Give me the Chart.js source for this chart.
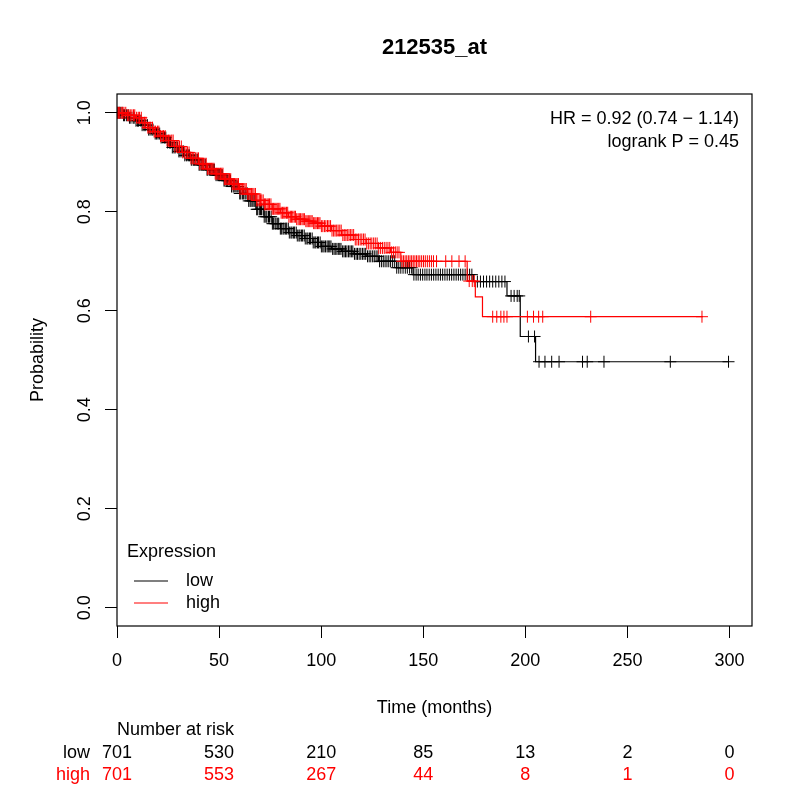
<!DOCTYPE html>
<html>
<head>
<meta charset="utf-8">
<script src="https://cdn.jsdelivr.net/npm/chart.js@4.4.0/dist/chart.umd.min.js"></script>
<style>
  html, body { margin: 0; padding: 0; background: #fff; }
  canvas { display: block; }
</style>
</head>
<body>
<canvas id="kmChart" width="800" height="800"></canvas>
<script>
// step points of the KM curves (time in months, survival)
const lowTimes = [0, 3, 6, 9, 12, 15, 18, 21, 24, 27, 30, 33, 36, 40, 44, 48, 52, 56, 60, 64, 68, 72, 76, 80, 84, 88, 92, 96, 100, 105, 110, 116, 122, 128, 137, 145, 174.5, 191, 197.5, 205, 299.5];
const lowSurv = [1, 0.995, 0.99, 0.984, 0.975, 0.966, 0.958, 0.95, 0.94, 0.93, 0.922, 0.914, 0.905, 0.895, 0.885, 0.874, 0.863, 0.851, 0.837, 0.822, 0.805, 0.79, 0.776, 0.766, 0.758, 0.752, 0.746, 0.738, 0.73, 0.725, 0.72, 0.715, 0.71, 0.7, 0.687, 0.673, 0.659, 0.63, 0.548, 0.497, 0.497];
const highTimes = [0, 5, 9, 12, 15, 18, 21, 24, 28, 32, 36, 40, 44, 48, 52, 56, 60, 64, 68, 72, 76, 80, 84, 88, 92, 96, 100, 105, 110, 116, 122, 128, 134, 139, 171.5, 175.5, 179, 287];
const highSurv = [1, 0.995, 0.99, 0.98, 0.97, 0.962, 0.953, 0.944, 0.932, 0.92, 0.908, 0.897, 0.887, 0.877, 0.866, 0.856, 0.846, 0.836, 0.823, 0.815, 0.806, 0.798, 0.79, 0.785, 0.781, 0.777, 0.771, 0.762, 0.753, 0.744, 0.736, 0.727, 0.718, 0.7, 0.66, 0.628, 0.588, 0.588];

// censoring times (the + marks)
const lowCensor = [0.4, 1.1, 1.6, 2.5, 3.2, 3.7, 4.6, 5.5, 6.1, 6.8, 7.9, 8.4, 9.3, 10.1, 10.6, 11.7, 12.3, 13.2, 13.8, 14.9, 15.5, 16.2, 17.1, 17.6, 18.7, 19.4, 20.1, 20.9, 21.6, 22.5, 23.3, 23.9, 24.8, 25.7, 26.2, 27.1, 27.9, 28.5, 29.6, 30.3, 30.9, 31.8, 32.6, 33.2, 34.1, 34.9, 35.5, 36.4, 37.3, 37.8, 38.7, 39.5,
  40.2, 40.7, 41.5, 42.1, 42.6, 43.4, 44.1, 44.5, 45.3, 45.9, 46.6, 47.2, 47.7, 48.5, 49.1, 49.8, 50.3, 51.1, 51.6, 52.4, 52.9, 53.7, 54.2, 54.9, 55.6, 56.1, 56.9, 57.4, 58.2, 58.8, 59.3, 60.1, 60.6, 61.4, 61.9, 62.7, 63.2, 63.9, 64.5, 65.2, 65.7, 66.5, 67.1, 67.6, 68.4, 68.9, 69.7, 70.3, 70.8, 71.6, 72.1, 72.9, 73.4, 74.2, 74.7, 75.5, 76.1, 76.6, 77.4, 77.9, 78.7, 79.2, 80, 80.5, 81.3, 81.8, 82.6, 83.1, 83.9, 84.4, 85.2, 85.7, 86.5, 87, 87.8, 88.3, 89.1, 89.6, 90.4, 90.9, 91.7, 92.2, 93, 93.5, 94.3, 94.8, 95.6, 96.1, 96.9, 97.4, 98.2, 98.7, 99.5,
  100.1, 100.8, 101.4, 102.1, 102.9, 103.5, 104.2, 104.8, 105.6, 106.3, 106.9, 107.7, 108.4, 109.1, 109.7, 110.5, 111.2, 111.9, 112.6, 113.4, 114.1, 114.8, 115.5, 116.3, 117.1, 117.8, 118.6, 119.4, 120.2, 121, 121.8, 122.7, 123.5, 124.3, 125.2, 126, 126.9, 127.8, 128.6, 129.5, 130.4, 131.3, 132.2, 133.1, 134, 135, 136, 137, 138, 139,
  140.1, 141.2, 142.2, 143.3, 144.3, 145.4, 146.5, 147.5, 148.6, 149.7, 150.8, 151.8, 152.9, 154, 155.1, 156.2, 157.3, 158.4, 159.5, 160.6, 161.7, 162.8, 163.9, 165, 166.1, 167.2, 168.3, 169.4, 170.5, 171.6, 172.7, 173.8,
  176.5, 178, 179.5, 181, 182.5, 184, 185.5, 187, 188.5, 190, 193, 194.5, 196, 197, 201.5, 204.5, 206.7, 209.6, 212.9, 216.5, 228, 230.3, 238.5, 271, 299.5];
const highCensor = [0.2, 0.7, 1.3, 2.1, 2.8, 3.4, 4.3, 5.1, 5.8, 6.5, 7.3, 8.1, 8.7, 9.6, 10.4, 11, 11.9, 12.7, 13.5, 14.2, 15.1, 15.8, 16.5, 17.4, 18.2, 18.9, 19.8, 20.5, 21.3, 22.1, 22.8, 23.6, 24.5, 25.2, 25.9, 26.8, 27.5, 28.3, 29.2, 29.9, 30.6, 31.5, 32.2, 33, 33.8, 34.5, 35.3, 36.2, 36.9, 37.6, 38.4, 39.2, 39.9,
  40.5, 41.2, 41.8, 42.4, 43.1, 43.7, 44.3, 45, 45.6, 46.2, 46.9, 47.5, 48.1, 48.8, 49.4, 50, 50.7, 51.3, 51.9, 52.6, 53.2, 53.8, 54.5, 55.1, 55.7, 56.4, 57, 57.6, 58.3, 58.9, 59.5, 60.2, 60.8, 61.4, 62.1, 62.7, 63.3, 64, 64.6, 65.2, 65.9, 66.5, 67.1, 67.8, 68.4, 69, 69.7, 70.3, 70.9, 71.6, 72.2, 72.8, 73.5, 74.1, 74.7, 75.4, 76, 76.6, 77.3, 77.9, 78.5, 79.2, 79.8, 80.4, 81.1, 81.7, 82.3, 83, 83.6, 84.2, 84.9, 85.5, 86.1, 86.8, 87.4, 88, 88.7, 89.3, 89.9, 90.6, 91.2, 91.8, 92.5, 93.1, 93.7, 94.4, 95, 95.6, 96.3, 96.9, 97.5, 98.2, 98.8, 99.4,
  100.1, 100.8, 101.6, 102.3, 103.1, 103.8, 104.6, 105.3, 106.1, 106.8, 107.6, 108.3, 109.1, 109.8, 110.6, 111.3, 112.1, 112.8, 113.6, 114.3, 115.1, 115.9, 116.7, 117.5, 118.3, 119.1, 119.9, 120.7, 121.5, 122.3, 123.1, 124, 124.8, 125.7, 126.5, 127.4, 128.2, 129.1, 130, 130.9, 131.8, 132.7, 133.6, 134.5, 135.4, 136.3, 137.2, 138.1, 139.5,
  140.3, 141.1, 141.9, 142.7, 143.5, 144.3, 145.1, 145.9, 146.7, 147.5, 148.3, 149.2, 150.1, 151, 152, 153, 154, 155, 156.5, 161, 164, 167.5, 170.5,
  172.5, 174, 175, 184, 186, 188, 189.5, 191, 201, 204, 206.5, 208.5, 232, 286.5];

// axes and risk table
const xTicks = [0, 50, 100, 150, 200, 250, 300];
const yTicks = [0, 0.2, 0.4, 0.6, 0.8, 1.0];
const riskTimes = [0, 50, 100, 150, 200, 250, 300];
const riskLow = [701, 530, 210, 85, 13, 2, 0];
const riskHigh = [701, 553, 267, 44, 8, 1, 0];

const FONT = '"Liberation Sans", Arial, Helvetica, sans-serif';
const RED = '#ff0000';

const stepPoints = (ts, ss) => ts.map((t, i) => ({x: t, y: ss[i]}));
// survival value of the step curve at time t
const survAt = (ts, ss, t) => {
  let s = ss[0];
  for (let i = 0; i < ts.length; i++) {
    if (ts[i] <= t) s = ss[i];
  }
  return s;
};
const censorPoints = (cs, ts, ss) => cs.map(t => ({x: t, y: survAt(ts, ss, t)}));

const extras = {
  id: 'extras',
  afterDraw(chart) {
    const ctx = chart.ctx;
    const a = chart.chartArea;
    const xs = chart.scales.x, ys = chart.scales.y;
    ctx.save();
    // box
    ctx.strokeStyle = '#000';
    ctx.lineWidth = 1.2;
    ctx.strokeRect(a.left, a.top, a.right - a.left, a.bottom - a.top);

    ctx.fillStyle = '#000';
    ctx.textBaseline = 'middle';
    // title
    ctx.font = 'bold 22px ' + FONT;
    ctx.textAlign = 'center';
    ctx.fillText('212535_at', (a.left + a.right) / 2, 48);

    ctx.font = '18px ' + FONT;
    // x tick labels
    xTicks.forEach(v => {
      ctx.fillText(String(v), xs.getPixelForValue(v), 661);
    });
    // y tick labels, rotated like R
    yTicks.forEach(v => {
      ctx.save();
      ctx.translate(85, ys.getPixelForValue(v));
      ctx.rotate(-Math.PI / 2);
      ctx.textAlign = 'center';
      ctx.fillText(v.toFixed(1), 0, 0);
      ctx.restore();
    });
    // axis titles
    ctx.save();
    ctx.translate(38, (a.top + a.bottom) / 2);
    ctx.rotate(-Math.PI / 2);
    ctx.textAlign = 'center';
    ctx.fillText('Probability', 0, 0);
    ctx.restore();
    ctx.textAlign = 'center';
    ctx.fillText('Time (months)', (a.left + a.right) / 2, 708);

    // HR / logrank text
    ctx.textAlign = 'right';
    ctx.fillText('HR = 0.92 (0.74 \u2212 1.14)', 739, 119);
    ctx.fillText('logrank P = 0.45', 739, 142);

    // legend
    ctx.textAlign = 'left';
    ctx.fillText('Expression', 127, 552);
    ctx.fillText('low', 186, 581);
    ctx.fillText('high', 186, 603);
    ctx.lineWidth = 1.2;
    ctx.strokeStyle = '#000';
    ctx.beginPath(); ctx.moveTo(134, 581); ctx.lineTo(168, 581); ctx.stroke();
    ctx.strokeStyle = RED;
    ctx.beginPath(); ctx.moveTo(134, 603); ctx.lineTo(168, 603); ctx.stroke();

    // number at risk
    ctx.fillStyle = '#000';
    ctx.fillText('Number at risk', 117, 730);
    ctx.textAlign = 'right';
    ctx.fillText('low', 90, 753);
    ctx.fillStyle = RED;
    ctx.fillText('high', 90, 775);
    ctx.textAlign = 'center';
    riskTimes.forEach((t, i) => {
      const px = xs.getPixelForValue(t);
      ctx.fillStyle = '#000';
      ctx.fillText(String(riskLow[i]), px, 753);
      ctx.fillStyle = RED;
      ctx.fillText(String(riskHigh[i]), px, 775);
    });
    ctx.restore();
  }
};

new Chart(document.getElementById('kmChart'), {
  type: 'scatter',
  data: {
    datasets: [
      {
        label: 'high',
        data: stepPoints(highTimes, highSurv),
        showLine: true,
        stepped: 'before',
        borderColor: RED,
        borderWidth: 1.2,
        pointRadius: 0,
        order: 0
      },
      {
        label: 'high censored',
        data: censorPoints(highCensor, highTimes, highSurv),
        showLine: false,
        pointStyle: 'cross',
        pointRadius: 6,
        borderColor: RED,
        borderWidth: 1,
        order: 0
      },
      {
        label: 'low',
        data: stepPoints(lowTimes, lowSurv),
        showLine: true,
        stepped: 'before',
        borderColor: '#000',
        borderWidth: 1.2,
        pointRadius: 0,
        order: 1
      },
      {
        label: 'low censored',
        data: censorPoints(lowCensor, lowTimes, lowSurv),
        showLine: false,
        pointStyle: 'cross',
        pointRadius: 6,
        borderColor: '#000',
        borderWidth: 1,
        order: 1
      }
    ]
  },
  options: {
    responsive: false,
    animation: false,
    devicePixelRatio: 1,
    layout: { padding: { left: 117, top: 94, right: 48, bottom: 174 } },
    plugins: { legend: { display: false }, title: { display: false }, tooltip: { enabled: false } },
    scales: {
      x: {
        type: 'linear',
        min: 0,
        max: 311,
        afterBuildTicks: s => { s.ticks = xTicks.map(v => ({value: v})); },
        afterFit: s => { s.height = 0; },
        grid: { drawOnChartArea: false, drawTicks: true, tickLength: 12, color: '#000', lineWidth: 1 },
        border: { display: false },
        ticks: { display: false }
      },
      y: {
        type: 'linear',
        min: -0.037,
        max: 1.038,
        afterBuildTicks: s => { s.ticks = yTicks.map(v => ({value: v})); },
        afterFit: s => { s.width = 0; },
        grid: { drawOnChartArea: false, drawTicks: true, tickLength: 12, color: '#000', lineWidth: 1 },
        border: { display: false },
        ticks: { display: false }
      }
    }
  },
  plugins: [extras]
});
</script>
</body>
</html>
